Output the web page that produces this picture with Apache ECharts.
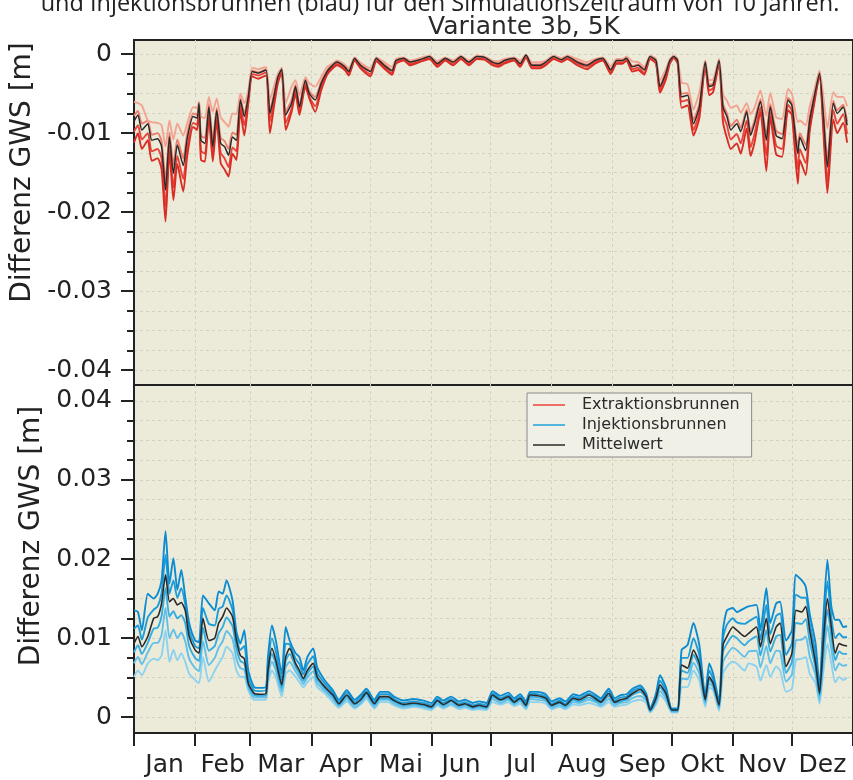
<!DOCTYPE html>
<html><head><meta charset="utf-8">
<script src="https://cdn.jsdelivr.net/npm/echarts@6/dist/echarts.min.js"></script>
<style>html,body{margin:0;padding:0;background:#fff}#c{width:853px;height:780px}</style>
</head><body><div id="c"></div>
<script>
// ---- axis / label data ----
const months = ['Jan','Feb','Mar','Apr','Mai','Jun','Jul','Aug','Sep','Okt','Nov','Dez'];
const monthStarts = [0,31,59,90,120,151,181,212,243,273,304,334,365];
const topTickLabels = [0,-0.01,-0.02,-0.03,-0.04];
const bottomTickLabels = [0,0.01,0.02,0.03,0.04];

// ---- top panel: Extraktionsbrunnen (values in mm) ----
const topDays = [0,2,4,7,9,12,14,16,18,20,22,25,27,30,32,33,34,36,38,40,42,44,46,48,50,52,54,56,58,60,63,67,69,71,73,75,77,80,82,84,87,89,92,95,98,100,103,107,109,112,115,120,123,127,131,133,137,140,145,150,154,158,162,166,170,174,178,182,185,188,193,196,199,202,206,209,213,217,220,225,230,234,238,242,245,248,250,253,256,259,262,265,267,270,272,274,276,278,281,284,287,290,292,294,297,299,301,303,306,308,311,313,315,318,321,323,326,329,332,334,337,338,341,343,345,348,350,352,355,357,360,362];
const topMean = [-8.5,-7.7,-9.6,-8.8,-10.9,-10.7,-11.7,-17.2,-10.5,-15.1,-11.5,-14.1,-10.7,-7.9,-8.1,-6.2,-10.9,-11.3,-6.7,-11.7,-7.1,-11.3,-11.7,-12.8,-10.5,-10.9,-5.8,-7.9,-5.4,-2.2,-2.4,-2.0,-7.5,-5.4,-2.9,-1.9,-7.7,-6.2,-4.1,-6.7,-3.3,-5.0,-5.8,-3.7,-2.2,-1.6,-1.0,-1.6,-2.2,-0.5,-1.4,-2.2,-0.5,-1.4,-2.1,-0.8,-0.5,-1.0,-0.7,-0.3,-1.2,-0.5,-1.0,-0.3,-1.0,-0.3,-0.4,-1.0,-1.2,-0.8,-0.5,-1.2,-0.1,-1.4,-1.4,-1.0,-0.3,-0.7,-0.3,-1.0,-1.4,-0.8,-0.5,-2.0,-0.8,-0.8,-0.5,-1.6,-1.4,-2.0,-0.3,-0.8,-4.1,-2.4,-0.8,-0.3,-0.8,-5.4,-5.2,-8.8,-6.7,-1.0,-4.1,-3.9,-0.8,-6.7,-7.9,-9.6,-8.8,-9.8,-7.3,-10.3,-8.8,-6.0,-10.9,-6.7,-10.3,-10.7,-5.8,-6.5,-12.6,-10.5,-12.2,-8.4,-5.8,-2.4,-7.9,-14.3,-6.2,-7.5,-6.7,-9.0];
const topWell1 = [-6.0,-6.2,-6.5,-8.4,-8.6,-8.7,-9.0,-11.7,-8.4,-10.8,-8.8,-10.3,-8.8,-6.7,-6.8,-6.0,-7.9,-8.1,-5.4,-7.3,-5.6,-8.0,-8.6,-9.2,-7.5,-7.6,-5.0,-6.2,-4.6,-1.7,-1.9,-1.6,-5.8,-4.1,-2.5,-1.7,-6.2,-4.1,-3.3,-5.2,-2.9,-3.7,-4.1,-2.9,-1.6,-1.3,-0.8,-1.3,-1.8,-0.4,-1.1,-1.8,-0.4,-1.0,-1.6,-0.6,-0.4,-0.8,-0.5,-0.2,-0.9,-0.4,-0.8,-0.2,-0.8,-0.2,-0.3,-0.8,-0.9,-0.6,-0.4,-0.8,-0.1,-1.0,-1.0,-0.8,-0.2,-0.5,-0.2,-0.6,-1.0,-0.6,-0.4,-1.5,-0.6,-0.6,-0.3,-0.9,-1.0,-1.6,-0.2,-0.6,-3.3,-1.9,-0.6,-0.2,-0.6,-3.6,-3.8,-7.0,-4.8,-0.8,-3.3,-3.2,-0.6,-5.1,-5.9,-6.8,-6.5,-7.4,-6.2,-7.6,-6.8,-4.6,-7.8,-4.9,-8.0,-8.2,-4.4,-5.0,-8.6,-8.4,-9.0,-6.6,-4.9,-2.1,-5.5,-9.4,-4.8,-5.4,-5.4,-6.6];
const topWell2 = [-7.8,-7.2,-8.8,-8.4,-10.2,-10.0,-11.0,-16.0,-9.9,-14.0,-10.8,-13.2,-10.1,-7.5,-7.7,-6.1,-10.3,-10.6,-6.3,-10.9,-6.8,-10.6,-11.0,-12.0,-9.9,-10.2,-5.6,-7.5,-5.2,-2.1,-2.3,-1.9,-7.1,-5.1,-2.8,-1.8,-7.3,-5.8,-3.9,-6.4,-3.2,-4.7,-5.4,-3.5,-2.1,-1.5,-1.0,-1.5,-2.1,-0.5,-1.3,-2.1,-0.5,-1.3,-2.0,-0.8,-0.5,-1.0,-0.7,-0.3,-1.1,-0.5,-1.0,-0.3,-1.0,-0.3,-0.4,-1.0,-1.1,-0.8,-0.5,-1.1,-0.1,-1.3,-1.3,-1.0,-0.3,-0.7,-0.3,-0.9,-1.3,-0.8,-0.5,-1.9,-0.8,-0.8,-0.5,-1.5,-1.3,-1.9,-0.3,-0.8,-3.9,-2.3,-0.8,-0.3,-0.8,-5.0,-4.9,-8.3,-6.3,-1.0,-3.9,-3.7,-0.8,-6.3,-7.5,-9.1,-8.3,-9.3,-7.0,-9.8,-8.4,-5.7,-10.3,-6.3,-9.7,-10.1,-5.5,-6.2,-11.8,-10.0,-11.5,-8.0,-5.6,-2.3,-7.4,-13.3,-5.9,-7.1,-6.4,-8.5];
const topWell3 = [-9.8,-9.0,-10.8,-10.0,-12.3,-12.0,-13.2,-19.3,-11.6,-16.9,-12.9,-15.8,-11.9,-8.7,-8.9,-6.5,-12.2,-12.6,-7.4,-12.6,-7.9,-12.5,-13.2,-14.3,-11.8,-12.3,-6.5,-9.0,-5.9,-2.5,-2.7,-2.3,-8.5,-6.0,-3.3,-2.1,-8.7,-6.9,-4.5,-7.3,-3.7,-5.4,-6.6,-4.1,-2.4,-1.8,-1.2,-1.8,-2.5,-0.7,-1.6,-2.5,-0.7,-1.6,-2.4,-1.0,-0.7,-1.2,-0.9,-0.5,-1.4,-0.7,-1.2,-0.5,-1.2,-0.5,-0.6,-1.2,-1.4,-1.0,-0.7,-1.4,-0.3,-1.6,-1.6,-1.2,-0.5,-0.9,-0.5,-1.2,-1.6,-1.0,-0.7,-2.3,-1.0,-1.0,-0.7,-1.9,-1.7,-2.4,-0.5,-1.0,-4.5,-2.8,-1.0,-0.4,-1.0,-6.0,-5.8,-9.6,-7.4,-1.2,-4.6,-4.3,-1.0,-7.6,-9.0,-10.8,-10.1,-11.3,-8.4,-11.8,-10.1,-6.7,-12.8,-7.4,-11.6,-12.0,-6.4,-7.2,-14.6,-12.0,-13.8,-9.3,-6.4,-2.5,-8.9,-16.2,-7.1,-8.8,-7.6,-10.1];
const topWell4 = [-11.2,-10.0,-12.0,-10.9,-13.5,-13.2,-14.6,-21.2,-12.3,-18.5,-13.9,-17.4,-12.9,-9.2,-9.6,-6.7,-13.4,-13.6,-7.9,-13.6,-8.4,-13.8,-14.6,-15.5,-12.6,-13.4,-7.2,-10.3,-6.3,-2.8,-3.1,-2.7,-10.0,-6.7,-3.7,-2.2,-9.6,-7.3,-5.0,-7.7,-4.1,-5.6,-7.3,-4.6,-2.6,-2.0,-1.4,-2.0,-2.7,-0.8,-1.8,-2.8,-0.9,-1.8,-2.6,-1.2,-0.8,-1.4,-1.0,-0.6,-1.6,-0.8,-1.4,-0.6,-1.4,-0.6,-0.7,-1.4,-1.6,-1.2,-0.8,-1.6,-0.4,-1.8,-1.8,-1.4,-0.6,-1.0,-0.6,-1.4,-1.9,-1.2,-0.8,-2.5,-1.2,-1.2,-0.8,-2.2,-2.0,-2.6,-0.6,-1.2,-4.9,-3.2,-1.2,-0.5,-1.2,-6.8,-6.5,-10.3,-8.1,-1.4,-5.2,-4.8,-1.2,-8.6,-10.6,-12.0,-11.3,-12.6,-9.4,-12.9,-11.2,-7.3,-14.8,-8.0,-12.7,-13.0,-7.1,-7.7,-16.4,-13.4,-15.3,-9.8,-6.7,-2.7,-10.0,-17.6,-8.3,-10.0,-8.7,-11.2];

// ---- bottom panel: Injektionsbrunnen (values in mm) ----
const botDays = [0,2,4,7,10,12,14,16,18,20,22,24,26,28,31,33,35,38,41,43,45,47,50,52,54,56,58,61,64,67,68,70,72,75,77,79,82,84,86,88,91,93,97,101,104,108,112,115,118,122,125,129,132,137,142,147,151,154,157,161,165,168,172,175,179,182,186,190,193,196,199,201,205,209,212,216,219,223,226,231,235,237,241,244,247,250,253,257,260,262,265,267,270,273,276,278,281,284,287,290,292,294,297,299,301,304,306,310,312,316,318,321,323,326,328,331,334,336,339,341,343,346,348,350,352,354,356,358,360,362];
const botMean = [9.3,10.2,8.9,10.2,12.5,12.7,14.4,18.0,14.6,15.0,14.2,14.5,13.5,10.2,8.5,8.1,12.5,9.7,10.0,11.9,12.7,13.8,12.7,9.7,7.8,7.4,4.3,3.0,2.9,3.0,5.9,8.7,7.2,4.1,7.6,8.7,6.8,5.9,4.9,5.9,6.8,5.1,3.8,2.8,1.7,2.8,1.7,2.2,3.1,1.7,2.6,2.6,2.1,1.6,1.8,1.6,1.3,2.1,1.6,2.1,1.5,1.7,1.3,1.5,1.3,2.8,2.2,2.6,1.9,2.4,1.5,2.8,2.7,2.4,1.5,1.9,1.5,2.4,2.2,2.8,2.2,1.9,3.0,1.9,2.2,2.4,3.0,3.5,2.6,0.9,2.4,4.1,3.0,0.9,0.9,6.6,6.2,8.5,6.8,2.2,5.1,4.3,1.5,9.1,10.2,11.4,11.0,10.2,10.6,11.4,8.9,12.5,9.3,11.4,11.9,6.4,8.1,13.5,13.3,14.0,11.0,6.8,3.0,9.7,15.0,11.4,8.1,9.3,9.1,9.0];
const botWell1 = [5.1,5.9,5.3,6.8,7.4,7.2,7.8,11.0,7.0,8.5,7.2,8.1,7.0,5.5,4.7,4.3,7.6,4.5,5.9,6.8,7.6,8.9,8.1,5.9,5.1,5.1,3.4,2.2,2.2,2.2,4.3,5.9,5.1,2.6,5.5,5.9,5.1,4.4,3.8,4.4,5.1,3.8,3.0,1.9,1.2,2.0,1.1,1.6,2.3,1.1,1.9,1.9,1.5,1.1,1.3,1.1,0.9,1.5,1.1,1.5,1.0,1.2,0.9,1.0,0.9,1.9,1.6,1.9,1.4,1.7,1.0,1.9,1.9,1.7,1.0,1.3,1.0,1.6,1.5,1.8,1.5,1.3,1.9,1.3,1.5,1.6,2.0,2.2,1.8,0.6,1.6,2.8,2.0,0.6,0.6,3.8,3.8,5.9,4.6,1.3,3.8,3.4,0.8,5.5,6.4,7.0,6.8,5.9,6.8,6.4,4.6,6.6,5.1,6.4,5.9,3.2,3.6,7.2,7.4,7.6,5.5,4.3,1.7,5.9,9.3,6.8,4.4,5.1,4.7,5.0];
const botWell2 = [6.8,7.6,6.7,8.2,9.4,9.4,10.4,13.8,10.0,11.1,10.0,10.7,9.6,7.4,6.2,5.8,9.6,6.6,7.5,8.8,9.6,10.9,9.9,7.4,6.2,6.0,3.8,2.5,2.5,2.5,4.9,7.0,5.9,3.2,6.3,7.0,5.8,5.0,4.2,5.0,5.8,4.3,3.3,2.3,1.4,2.3,1.3,1.8,2.6,1.3,2.2,2.2,1.7,1.3,1.5,1.3,1.1,1.7,1.3,1.7,1.2,1.4,1.1,1.2,1.1,2.3,1.8,2.2,1.6,2.0,1.2,2.3,2.2,2.0,1.2,1.5,1.2,1.9,1.8,2.2,1.8,1.5,2.3,1.5,1.8,1.9,2.4,2.7,2.1,0.7,1.9,3.3,2.4,0.7,0.7,4.9,4.8,6.9,5.5,1.7,4.3,3.8,1.1,6.9,7.9,8.8,8.5,7.6,8.3,8.4,6.3,9.0,6.8,8.4,8.3,4.5,5.4,9.7,9.8,10.2,7.7,5.3,2.2,7.4,11.6,8.6,5.9,6.8,6.5,6.6];
const botWell3 = [8.2,9.1,8.0,9.4,11.2,11.3,12.8,16.3,12.7,13.4,12.5,12.9,11.9,9.0,7.5,7.1,11.3,8.4,9.0,10.6,11.4,12.6,11.5,8.7,7.1,6.8,4.1,2.8,2.7,2.8,5.5,8.0,6.7,3.7,7.1,8.0,6.4,5.5,4.6,5.5,6.4,4.8,3.6,2.6,1.6,2.6,1.6,2.1,2.9,1.6,2.4,2.4,2.0,1.5,1.7,1.5,1.2,2.0,1.5,2.0,1.4,1.6,1.2,1.4,1.2,2.6,2.1,2.4,1.8,2.2,1.4,2.6,2.5,2.2,1.4,1.8,1.4,2.2,2.0,2.5,2.0,1.8,2.7,1.8,2.0,2.2,2.8,3.2,2.4,0.8,2.2,3.8,2.8,0.8,0.8,5.9,5.6,7.9,6.3,2.0,4.8,4.1,1.3,8.2,9.3,10.3,10.0,9.1,9.6,10.2,7.8,11.0,8.3,10.2,10.4,5.6,7.0,11.9,11.8,12.4,9.6,6.2,2.7,8.7,13.6,10.3,7.2,8.3,8.0,8.0];
const botWell4 = [11.2,11.6,9.8,12.6,13.6,14.0,15.7,20.5,15.6,17.3,15.1,16.3,14.3,11.0,9.0,8.7,13.8,11.8,11.6,13.7,14.0,15.4,13.6,10.2,8.5,9.0,5.0,3.4,3.3,3.4,6.7,10.0,8.3,4.7,9.3,9.2,7.4,6.7,5.4,6.7,7.7,5.6,4.2,3.1,1.9,3.1,1.9,2.5,3.3,1.9,2.9,2.9,2.3,1.8,2.0,1.8,1.5,2.3,1.8,2.3,1.7,1.9,1.5,1.7,1.5,3.0,2.4,2.8,2.1,2.6,1.7,3.0,2.9,2.6,1.7,2.1,1.7,2.6,2.4,3.0,2.4,2.1,3.3,2.1,2.5,2.6,3.3,3.7,2.8,1.0,2.7,4.6,3.4,1.0,1.0,7.5,7.5,10.0,7.8,2.4,5.9,4.8,1.7,10.0,11.7,12.5,12.0,11.8,12.1,12.7,9.8,14.2,10.5,12.8,13.1,7.9,9.4,15.5,15.1,15.1,11.9,7.9,3.4,11.1,17.2,12.6,10.0,10.6,10.1,10.1];
const botWell5 = [13.5,13.3,11.0,15.6,15.0,15.6,17.3,23.5,16.9,20.1,16.1,18.6,15.2,11.9,9.7,9.5,15.4,14.4,13.5,15.9,15.6,17.3,14.8,10.8,9.3,11.0,5.9,3.8,3.7,3.8,7.6,11.6,9.7,5.5,11.4,9.7,8.1,7.6,5.9,7.6,8.7,6.3,4.6,3.4,2.2,3.4,2.2,2.8,3.6,2.2,3.2,3.2,2.6,2.1,2.3,2.1,1.8,2.6,2.1,2.6,2.0,2.2,1.8,2.0,1.8,3.3,2.7,3.1,2.4,2.9,2.0,3.2,3.2,2.9,2.0,2.4,2.0,2.9,2.7,3.3,2.7,2.4,3.6,2.4,2.8,2.9,3.6,4.0,3.0,1.1,3.0,5.3,3.8,1.1,1.1,8.5,9.1,11.9,9.1,2.6,6.8,5.5,2.0,11.0,13.5,13.8,13.3,13.8,14.0,14.2,11.0,16.3,11.9,14.4,14.6,9.7,11.0,18.0,17.3,16.5,13.1,9.3,3.8,12.7,19.9,14.0,12.3,12.3,11.4,11.5];

// ---- build chart ----
const FONT = 'DejaVu Sans';
const monthMid = months.map((m, i) => (monthStarts[i] + monthStarts[i + 1]) / 2);
function minorList(a, b) { const r = []; for (let i = a; i <= b; i++) r.push(i * 0.0025); return r; }
const topMinor = minorList(-16, 0);
const botMinor = minorList(0, 16);
const GRID_BG = '#ecebda';
const SPLIT = { show: true, lineStyle: { color: '#d3d2c2', type: [3, 3], width: 1 } };

function pairs(days, vals) { return days.map((d, i) => [d, vals[i] / 1000]); }
function line(name, days, vals, color, width, xi, yi, z) {
  return { type: 'line', name, data: pairs(days, vals), xAxisIndex: xi, yAxisIndex: yi,
    showSymbol: false, symbol: 'none', silent: true, z, smooth: 0.2,
    lineStyle: { color, width, join: 'round' }, itemStyle: { color } };
}
function xAxis(gi, showLabels) {
  return {
    type: 'value', gridIndex: gi, min: 0, max: 365,
    axisLine: { show: showLabels, onZero: false, lineStyle: { color: '#222', width: 2 } },
    axisTick: { show: showLabels, customValues: monthStarts, length: 13, lineStyle: { color: '#222', width: 2 } },
    axisLabel: { show: showLabels, customValues: monthMid, margin: 20,
      fontFamily: FONT, fontSize: 25, color: '#222',
      formatter: v => { let k = 0, best = 1e9; monthMid.forEach((m, i) => { if (Math.abs(m - v) < best) { best = Math.abs(m - v); k = i; } }); return months[k]; } },
    splitLine: SPLIT
  };
}
function yMajor(gi, min, max, ticks, namePad) {
  return {
    type: 'value', gridIndex: gi, min, max, position: 'left',
    name: 'Differenz GWS [m]', nameLocation: 'middle', nameGap: 80,
    nameTextStyle: { fontFamily: FONT, fontSize: 28, color: '#222', padding: [0, 0, 0, namePad] },
    axisLine: { show: true, lineStyle: { color: '#222', width: 2 } },
    axisTick: { show: true, customValues: ticks, length: 13, lineStyle: { color: '#222', width: 2 } },
    axisLabel: { customValues: ticks, margin: 22, fontFamily: FONT, fontSize: 25, color: '#222',
      formatter: v => (Math.abs(v) < 1e-9 ? '0' : v.toFixed(2)) },
    splitLine: { show: false }
  };
}
function yMinor(gi, min, max, ticks) {
  return {
    type: 'value', gridIndex: gi, min, max, position: 'left',
    axisLine: { show: false },
    axisTick: { show: true, customValues: ticks, length: 7, lineStyle: { color: '#222', width: 2 } },
    axisLabel: { show: false },
    splitLine: SPLIT
  };
}

const series = [
  line('Extraktionsbrunnen', topDays, topWell3, '#e8453c', 1.9, 0, 1, 3),
  line('Extraktionsbrunnen', topDays, topWell4, '#d92c24', 1.9, 0, 1, 4),
  line('Extraktionsbrunnen', topDays, topWell2, '#ee7d6e', 1.9, 0, 1, 5),
  line('Extraktionsbrunnen', topDays, topWell1, '#f2a391', 1.9, 0, 1, 6),
  line('Mittelwert', topDays, topMean, '#2a2a2a', 1.5, 0, 1, 10),
  line('Injektionsbrunnen', botDays, botWell1, '#8dd2ee', 1.9, 1, 3, 3),
  line('Injektionsbrunnen', botDays, botWell2, '#62c0e8', 1.9, 1, 3, 4),
  line('Injektionsbrunnen', botDays, botWell3, '#36ade1', 1.9, 1, 3, 5),
  line('Injektionsbrunnen', botDays, botWell4, '#1c9cd9', 1.9, 1, 3, 6),
  line('Injektionsbrunnen', botDays, botWell5, '#0c8cd0', 1.9, 1, 3, 7),
  line('Mittelwert', botDays, botMean, '#2a2a2a', 1.6, 1, 3, 10)
];

const chart = echarts.init(document.getElementById('c'), null, { renderer: 'canvas' });
chart.setOption({
  animation: false,
  backgroundColor: '#ffffff',
  title: [
    { text: 'Variante 3b, 5K', left: 519, textAlign: 'center', top: 10,
      textStyle: { fontFamily: FONT, fontSize: 25, fontWeight: 'normal', color: '#2a2a2a' } },
    { text: 'und Injektionsbrunnen (blau) für den Simulationszeitraum von 10 Jahren.', left: 435, textAlign: 'center', top: -13,
      textStyle: { fontFamily: 'Open Sans', fontSize: 23.5, fontWeight: 'normal', color: '#222' } }
  ],
  grid: [
    { left: 134, top: 40, width: 730, height: 345, show: true, backgroundColor: GRID_BG, borderColor: '#222', borderWidth: 2 },
    { left: 134, top: 385, width: 730, height: 348, show: true, backgroundColor: GRID_BG, borderColor: '#222', borderWidth: 2 }
  ],
  xAxis: [xAxis(0, false), xAxis(1, true)],
  yAxis: [
    yMajor(0, -0.0419, 0.0018, topTickLabels, 80),
    yMinor(0, -0.0419, 0.0018, topMinor),
    yMajor(1, -0.002, 0.042, bottomTickLabels, 46),
    yMinor(1, -0.002, 0.042, botMinor)
  ],
  legend: {
    orient: 'vertical', left: 527, top: 393, padding: [4, 12, 4, 6], itemGap: 4,
    icon: 'rect', itemWidth: 32, itemHeight: 1.5,
    backgroundColor: '#f1f0e6', borderColor: '#8a8a8a', borderWidth: 1,
    textStyle: { fontFamily: FONT, fontSize: 16, color: '#2a2a2a', padding: [0, 0, 0, 12] },
    data: [
      { name: 'Extraktionsbrunnen', itemStyle: { color: '#e8453c' } },
      { name: 'Injektionsbrunnen', itemStyle: { color: '#1fa3dc' } },
      { name: 'Mittelwert', itemStyle: { color: '#2a2a2a' } }
    ],
    selectedMode: false
  },
  series
});
</script></body></html>
